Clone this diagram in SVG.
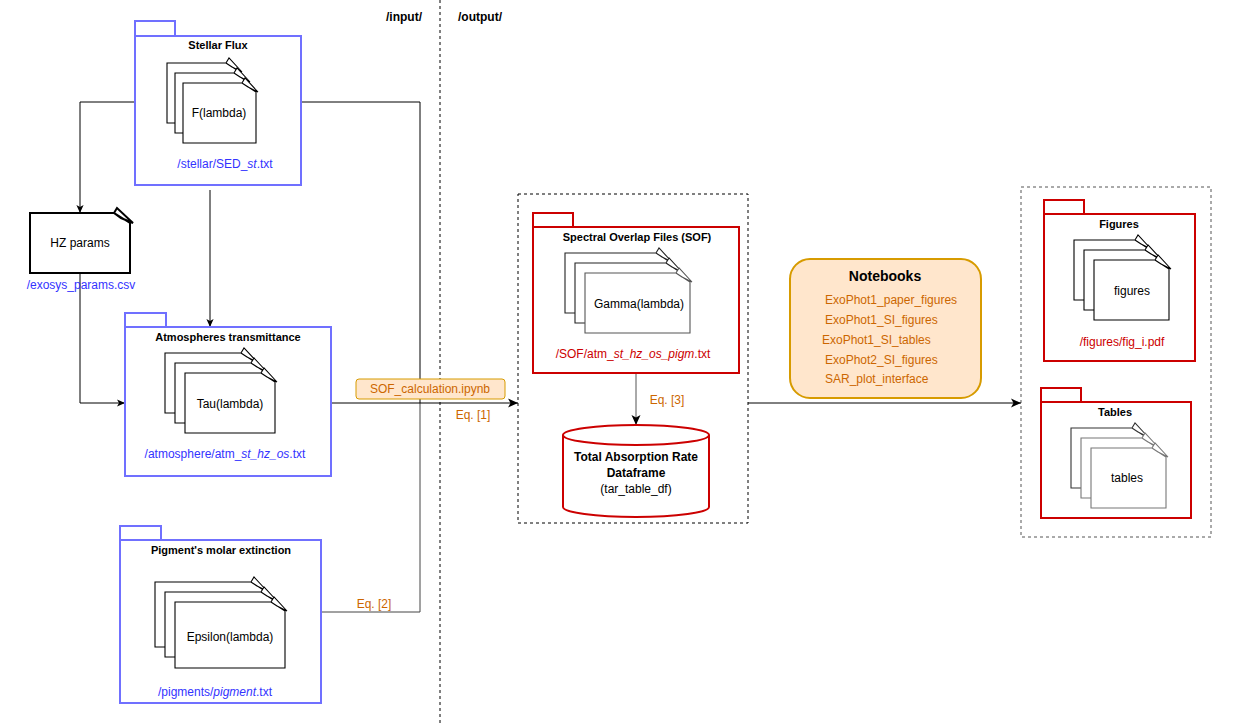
<svg xmlns="http://www.w3.org/2000/svg" width="1248" height="725" viewBox="0 0 1248 725">
<defs>
<marker id="arr" viewBox="0 0 10 10" refX="10" refY="5" markerWidth="10" markerHeight="10" markerUnits="userSpaceOnUse" orient="auto">
<path d="M0,0.5 L10,5 L0,9.5 L2.5,5 Z" fill="#000"/>
</marker>
<marker id="arrS" viewBox="0 0 10 10" refX="10" refY="5" markerWidth="8" markerHeight="8" markerUnits="userSpaceOnUse" orient="auto">
<path d="M0,0.5 L10,5 L0,9.5 L2.5,5 Z" fill="#000"/>
</marker>
</defs>
<style>
text{font-family:"Liberation Sans",Arial,sans-serif;font-size:12px;fill:#000}
.t{font-weight:bold;font-size:11px;text-anchor:middle}
.c{text-anchor:middle}
.blue{fill:#3333FF}
.red{fill:#CC0000}
.org{fill:#CC6600}
.pkgB{fill:#fff;stroke:#7070FF;stroke-width:2}
.pkgR{fill:#fff;stroke:#CC0000;stroke-width:2}
.pg{fill:#fff;stroke:#000;stroke-width:1.1;stroke-linejoin:miter}
.conn{fill:none;stroke:#000;stroke-width:1}
.dash{fill:none;stroke:#000;stroke-width:1;stroke-dasharray:3,3}
</style>

<rect width="1248" height="725" fill="#fff"/>

<g id="divider">
<line x1="440" y1="0" x2="440" y2="725" class="dash"/>
<text x="422" y="21" style="font-weight:bold;text-anchor:end">/input/</text>
<text x="458" y="21" style="font-weight:bold">/output/</text>
</g>

<g id="output-frame">
<rect x="518" y="194" width="230" height="329" class="dash"/>
</g>
<g id="results-frame">
<rect x="1021" y="187" width="190" height="350" class="dash" style="stroke:#555"/>
</g>

<g id="connectors">
<path d="M135,102 H80 V213" class="conn" marker-end="url(#arrS)"/>
<path d="M80,273 V403 H125" class="conn" marker-end="url(#arrS)"/>
<path d="M210,190 V327" class="conn" marker-end="url(#arrS)"/>
<path d="M301,102 H420 V403" class="conn"/>
<path d="M321,612 H420 V403" class="conn" style="stroke:#444"/>
<path d="M331,403 H518" class="conn" marker-end="url(#arr)"/>
<path d="M636,373 V425" class="conn" style="stroke:#555" marker-end="url(#arr)"/>
<path d="M748,403 H1021" class="conn" marker-end="url(#arr)"/>
<rect x="356" y="379" width="149" height="20" rx="3" fill="#ffe6cc" stroke="#d79b00"/>
<text x="430" y="393" class="c org">SOF_calculation.ipynb</text>
<text x="473" y="419" class="c org">Eq. [1]</text>
<text x="374" y="608" class="c org">Eq. [2]</text>
<text x="667" y="404" class="c org">Eq. [3]</text>
</g>

<g id="stellar-flux">
<rect x="135" y="21" width="40" height="15" class="pkgB"/>
<rect x="135" y="36" width="166" height="149" class="pkgB"/>
<text x="218" y="49" class="t">Stellar Flux</text>
<path d="M240,72 V123 H167 V63 H226 Z M226,63 L229,58 L242,72 L232,67 Z" class="pg"/>
<path d="M248,82 V133 H175 V73 H234 Z M234,73 L237,68 L250,82 L240,77 Z" class="pg"/>
<path d="M256,92 V143 H183 V83 H242 Z M242,83 L245,78 L258,92 L248,87 Z" class="pg"/>
<text x="219" y="117" class="c">F(lambda)</text>
<text x="225" y="168" class="c blue">/stellar/SED_<tspan font-style="italic">st</tspan>.txt</text>
</g>

<g id="hz-params">
<path d="M130,223 V273 H30 V213 H114 Z M114,213 L117,208 L133,223 L121,218 Z" fill="#fff" stroke="#000" stroke-width="2" stroke-linejoin="miter"/>
<text x="80" y="247" class="c">HZ params</text>
<text x="81" y="289" class="c blue">/exosys_params.csv</text>
</g>

<g id="atmospheres">
<rect x="125" y="313" width="41" height="14" class="pkgB"/>
<rect x="125" y="327" width="206" height="149" class="pkgB"/>
<text x="228" y="341" class="t">Atmospheres transmittance</text>
<path d="M255,362 V413 H165 V353 H241 Z M241,353 L244,348 L257,362 L247,357 Z" class="pg"/>
<path d="M265,372 V423 H175 V363 H251 Z M251,363 L254,358 L267,372 L257,367 Z" class="pg"/>
<path d="M275,382 V433 H185 V373 H261 Z M261,373 L264,368 L277,382 L267,377 Z" class="pg"/>
<text x="230" y="408" class="c">Tau(lambda)</text>
<text x="225" y="458" class="c blue">/atmosphere/atm_<tspan font-style="italic">st_hz_os</tspan>.txt</text>
</g>

<g id="pigments">
<rect x="120" y="526" width="41" height="14" class="pkgB"/>
<rect x="120" y="540" width="201" height="163" class="pkgB"/>
<text x="221" y="554" class="t">Pigment's molar extinction</text>
<path d="M265,591 V647 H155 V582 H251 Z M251,582 L254,577 L267,591 L257,586 Z" class="pg"/>
<path d="M275,601 V657 H165 V592 H261 Z M261,592 L264,587 L277,601 L267,596 Z" class="pg"/>
<path d="M285,611 V668 H175 V602 H271 Z M271,602 L274,597 L287,611 L277,606 Z" class="pg"/>
<text x="230" y="641" class="c">Epsilon(lambda)</text>
<text x="215" y="696" class="c blue">/pigments/<tspan font-style="italic">pigment</tspan>.txt</text>
</g>

<g id="sof">
<rect x="533" y="213" width="40" height="14" class="pkgR"/>
<rect x="533" y="227" width="206" height="146" class="pkgR"/>
<text x="637" y="241" class="t">Spectral Overlap Files (SOF)</text>
<path d="M670,262 V313 H565 V253 H656 Z M656,253 L659,248 L672,262 L662,257 Z" class="pg" style="stroke:#222"/>
<path d="M680,272 V323 H575 V263 H666 Z M666,263 L669,258 L682,272 L672,267 Z" class="pg" style="stroke:#222"/>
<path d="M690,282 V333 H585 V273 H676 Z M676,273 L679,268 L692,282 L682,277 Z" class="pg" style="stroke:#555"/>
<text x="639" y="308" class="c">Gamma(lambda)</text>
<text x="633" y="358" class="c red">/SOF/atm_<tspan font-style="italic">st_hz_os_pigm</tspan>.txt</text>
</g>

<g id="tar-dataframe">
<path d="M563,435 A73,10 0 0 1 709,435 V507 A73,10 0 0 1 563,507 Z" fill="#fff" stroke="#CC0000" stroke-width="2"/>
<path d="M563,435 A73,10 0 0 0 709,435" fill="none" stroke="#CC0000" stroke-width="2"/>
<text x="636" y="461" class="c" font-weight="bold">Total Absorption Rate</text>
<text x="636" y="477" class="c" font-weight="bold">Dataframe</text>
<text x="636" y="493" class="c">(tar_table_df)</text>
</g>

<g id="notebooks">
<rect x="790" y="259" width="191" height="139" rx="20" fill="#ffe6cc" stroke="#d79b00" stroke-width="2"/>
<text x="885" y="281" class="c" style="font-weight:bold;font-size:14px">Notebooks</text>
<text x="825" y="304" class="org">ExoPhot1_paper_figures</text>
<text x="825" y="324" class="org">ExoPhot1_SI_figures</text>
<text x="822" y="344" class="org">ExoPhot1_SI_tables</text>
<text x="825" y="364" class="org">ExoPhot2_SI_figures</text>
<text x="825" y="383" class="org">SAR_plot_interface</text>
</g>

<g id="figures">
<rect x="1044" y="200" width="40" height="14" class="pkgR"/>
<rect x="1044" y="214" width="151" height="147" class="pkgR"/>
<text x="1119" y="228" class="t">Figures</text>
<path d="M1149,249 V300 H1074 V240 H1135 Z M1135,240 L1138,235 L1151,249 L1141,244 Z" class="pg"/>
<path d="M1159,259 V310 H1084 V250 H1145 Z M1145,250 L1148,245 L1161,259 L1151,254 Z" class="pg"/>
<path d="M1169,269 V320 H1094 V260 H1155 Z M1155,260 L1158,255 L1171,269 L1161,264 Z" class="pg"/>
<text x="1132" y="295" class="c">figures</text>
<text x="1122" y="346" class="c red">/figures/fig_i.pdf</text>
</g>

<g id="tables">
<rect x="1041" y="388" width="40" height="14" class="pkgR"/>
<rect x="1041" y="402" width="150" height="116" class="pkgR"/>
<text x="1115" y="416" class="t">Tables</text>
<path d="M1146,437 V488 H1071 V428 H1132 Z M1132,428 L1135,423 L1148,437 L1138,432 Z" class="pg" style="stroke:#333"/>
<path d="M1156,447 V498 H1081 V438 H1142 Z M1142,438 L1145,433 L1158,447 L1148,442 Z" class="pg" style="stroke:#777"/>
<path d="M1166,457 V508 H1091 V448 H1152 Z M1152,448 L1155,443 L1168,457 L1158,452 Z" class="pg" style="stroke:#777"/>
<text x="1127" y="482" class="c">tables</text>
</g>
</svg>
